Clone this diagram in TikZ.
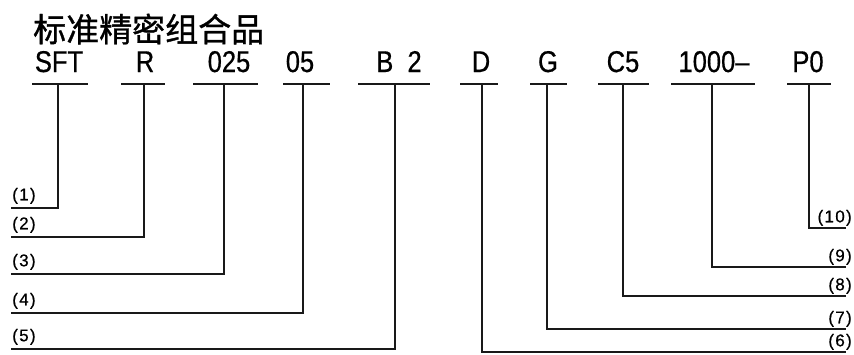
\documentclass[tikz,border=0pt]{standalone}
\usepackage{fontspec}
\setmainfont{Liberation Sans}
\newfontfamily\cjk[FakeBold=1]{Noto Sans CJK SC}
\newfontfamily\codefont[FakeStretch=0.85,FakeBold=0.6]{Liberation Sans}
\newfontfamily\lblfont[LetterSpace=8,FakeBold=0.6]{Liberation Sans}
\begin{document}
\begin{tikzpicture}[x=1pt,y=-1pt,
  code/.style={font=\codefont\fontsize{30}{32}\selectfont, inner sep=0pt, anchor=base},
  lbl/.style={font=\lblfont\fontsize{17}{18}\selectfont, inner sep=0pt},
  conn/.style={line width=1.4pt, draw=black!90},
  uline/.style={line width=1.4pt, draw=black!90}]
\fill[white] (0,0) rectangle (854,354);
\useasboundingbox (0,0) rectangle (854,354);
% title
\node[font=\cjk\fontsize{33}{35}\selectfont, inner sep=0pt, anchor=west] (title) at (33,29) {标准精密组合品};
% codes
\node[code] (c1) at (59,72) {SFT};
\node[code] (c2) at (145,72) {R};
\node[code] (c3) at (229,72) {025};
\node[code] (c4) at (300,72) {05};
\node[code] (c5) at (399,72) {B\ \ 2};
\node[code] (c6) at (481,72) {D};
\node[code] (c7) at (548,72) {G};
\node[code] (c8) at (623,72) {C5};
\node[code] (c9) at (714,72) {1000–};
\node[code] (c10) at (808,72) {P0};
% underlines
\foreach \n/\a/\b/\s in {1/32/88/58, 2/121/165/144, 3/193/258/224, 4/283/330/303, 5/358/430/395,
                         6/460/498/482, 7/530/567/547, 8/598/649/623, 9/671/755/712, 10/787/831/809}{
  \coordinate (ua\n) at (\a,84);
  \coordinate (ub\n) at (\b,84);
  \coordinate (us\n) at (\s,84);
  \draw[uline] (ua\n) -- (ub\n);
}
% left-side labels and leaders
\foreach \n/\y in {1/208, 2/237, 3/274, 4/313, 5/349}{
  \coordinate (e\n) at (11,\y);
  \node[lbl, anchor=south west] (l\n) at (12,\y-4) {(\n)};
  \draw[conn] (us\n) |- (e\n);
}
% right-side labels and leaders
\foreach \n/\y in {10/228, 9/267, 8/296, 7/329, 6/352}{
  \coordinate (e\n) at (846,\y);
  \node[lbl, anchor=south east] (l\n) at (852,\y-2) {(\n)};
  \draw[conn] (us\n) |- (e\n);
}
\end{tikzpicture}
\end{document}
